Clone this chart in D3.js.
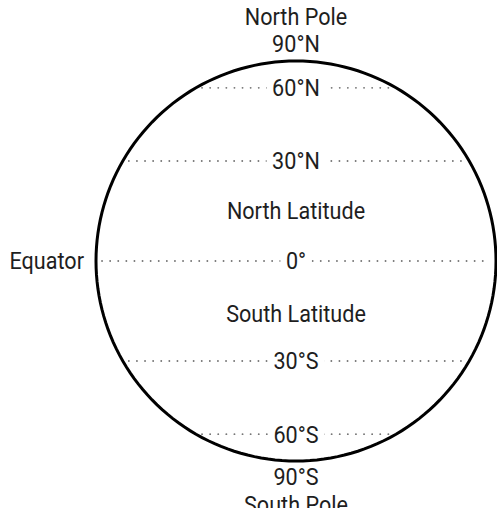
<!DOCTYPE html>
<html>
<head>
<meta charset="utf-8">
<script src="https://cdn.jsdelivr.net/npm/d3@7"></script>
<style>
  body { margin: 0; background: #fff; }
  text { font-family: Roboto, "Liberation Sans", sans-serif; font-size: 23.5px; fill: #1e1e1e; }
</style>
</head>
<body>
<svg id="chart"></svg>
<script>
// parallels drawn as dotted lines, with their labels
var latitudes = [60, 30, 0, -30, -60];
var latLabels = ['60°N', '30°N', '0°', '30°S', '60°S'];

// region labels placed between parallels (latitude of label centre)
var regionLats = [15, -15];
var regionLabels = ['North Latitude', 'South Latitude'];

function init() {
  var width = 497,
      height = 508,
      cx = 296,
      cy = 261,
      radius = 200,
      inset = 6,
      squeeze = 0.92;

  var svg = d3.select('#chart')
      .attr('width', width)
      .attr('height', height);

  var projection = d3.geoOrthographic()
      .scale(radius)
      .translate([cx, cy])
      .rotate([0, 0])
      .clipAngle(90);

  function yOf(lat) { return projection([0, lat])[1]; }

  // parallels
  svg.selectAll('line.parallel')
      .data(latitudes)
    .enter().append('line')
      .attr('class', 'parallel')
      .attr('x1', function(d) { return projection([-90, d])[0] + inset; })
      .attr('x2', function(d) { return projection([90, d])[0] - inset; })
      .attr('y1', yOf)
      .attr('y2', yOf)
      .style('stroke', '#777')
      .style('stroke-width', 1.8)
      .style('stroke-linecap', 'round')
      .style('stroke-dasharray', '0.1 8');

  // globe outline
  svg.append('path')
      .datum({type: 'Sphere'})
      .attr('d', d3.geoPath(projection))
      .style('fill', 'none')
      .style('stroke', '#000')
      .style('stroke-width', 3);

  // condensed look: squeeze Roboto horizontally
  function label(g, txt, x, y, anchor, pad) {
    var node = g.append('g')
        .attr('transform', 'translate(' + x + ',' + y + ') scale(' + squeeze + ',1)');
    var t = node.append('text')
        .attr('dy', '0.36em')
        .attr('text-anchor', anchor)
        .text(txt);
    if (pad) {
      var b = t.node().getBBox();
      node.insert('rect', 'text')
          .attr('x', b.x - pad)
          .attr('y', b.y)
          .attr('width', b.width + pad * 2)
          .attr('height', b.height)
          .style('fill', '#fff');
    }
  }

  var labels = svg.append('g');

  latitudes.forEach(function(lat, i) {
    label(labels, latLabels[i], cx, yOf(lat), 'middle', 6);
  });

  regionLats.forEach(function(lat, i) {
    label(labels, regionLabels[i], cx, yOf(lat) + 1, 'middle', 0);
  });

  label(labels, 'North Pole', cx, yOf(90) - 44, 'middle', 0);
  label(labels, '90°N', cx, yOf(90) - 17, 'middle', 0);
  label(labels, '90°S', cx, yOf(-90) + 16, 'middle', 0);
  label(labels, 'South Pole', cx, yOf(-90) + 44, 'middle', 0);

  label(labels, 'Equator', projection([-90, 0])[0] - 12, yOf(0), 'end', 0);
}

d3.select(window).on('load', init);
</script>
</body>
</html>
